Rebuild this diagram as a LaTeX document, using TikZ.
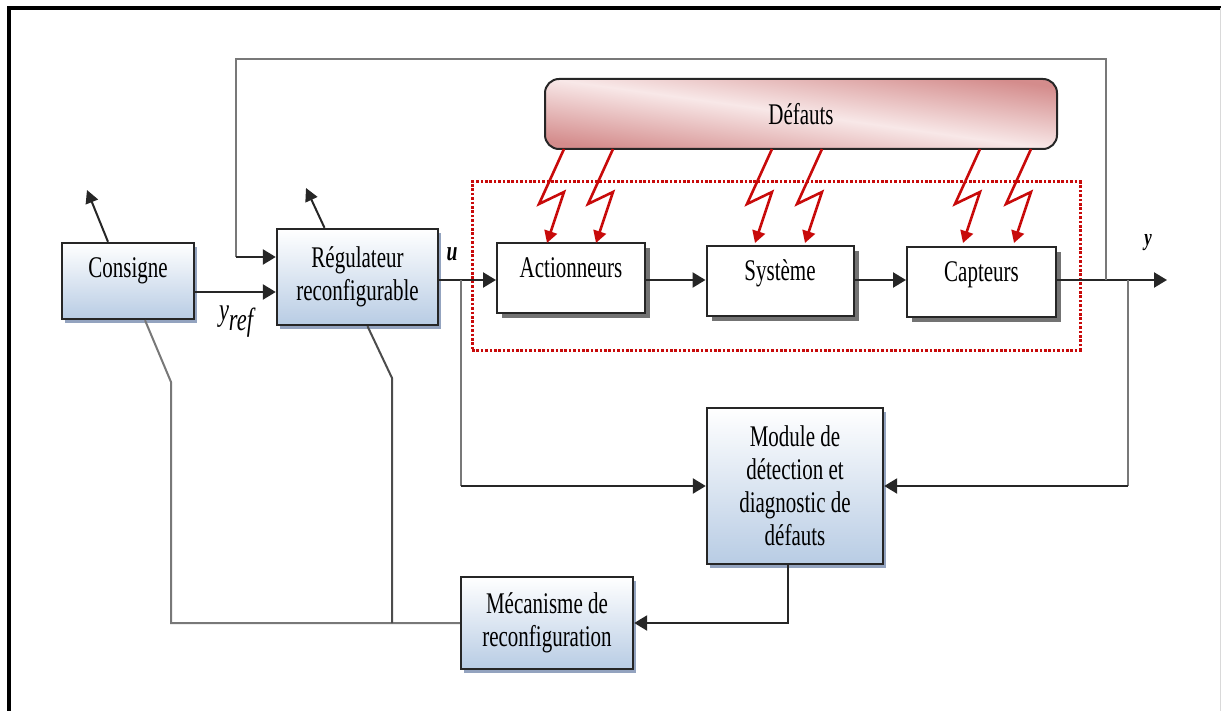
\documentclass[tikz,border=0pt]{standalone}
\usepackage{fontspec}
\setmainfont{Liberation Serif}[FakeStretch=0.7]
\usetikzlibrary{arrows.meta,shadows,calc}
\definecolor{boxblue}{RGB}{184,204,228}
\definecolor{shblue}{RGB}{120,140,175}
\definecolor{pinkdark}{RGB}{212,140,140}
\definecolor{pinklight}{RGB}{248,232,232}
\definecolor{boltred}{RGB}{200,10,10}
\definecolor{gline}{RGB}{120,120,120}
\tikzset{
  every node/.style={font=\fontsize{30}{33}\selectfont},
  bluebox/.style={draw=black!85, line width=2.4pt, top color=white, bottom color=boxblue,
    align=center, inner sep=0pt,
    drop shadow={shadow xshift=3pt, shadow yshift=-4pt, fill=shblue, opacity=0.8}},
  whitebox/.style={draw=black!85, line width=2pt, fill=white, align=center, inner sep=0pt,
    text height=20pt, text depth=20pt,
    drop shadow={shadow xshift=5pt, shadow yshift=-5pt, fill=black!55, opacity=1}},
  arr/.style={draw=black!85, line width=2.4pt, -{Triangle[length=13pt,width=15pt]}},
  garr/.style={draw=gline, line width=2pt},
  smallarr/.style={draw=black!85, line width=2pt, -{Triangle[length=13pt,width=13pt]}},
  bolt/.style={draw=boltred, line width=2.6pt, line join=miter, -{Triangle[length=12pt,width=13pt]}},
  lbl/.style={font=\fontsize{28}{31}\selectfont\itshape\bfseries, inner sep=0pt}
}
\begin{document}
\begin{tikzpicture}[x=1pt,y=-1pt]
\useasboundingbox (0,0) rectangle (1221,711);
% frame
\draw[line width=3.5pt, black] (9,711) -- (9,8) -- (1221,8);
\draw[line width=0.8pt, black!15] (1220,8) -- (1220,711);

% Defauts
\node[draw=black!85, line width=2pt, rounded corners=14pt, minimum width=512pt, minimum height=70pt,
  top color=pinkdark, bottom color=pinkdark, middle color=pinklight, shading angle=-8, inner sep=0pt]
  (def) at (801,114) {Défauts};

% fault zone
\node[draw=boltred, line width=3pt, dash pattern=on 2.6pt off 1.8pt, minimum width=608pt,
  minimum height=168pt, inner sep=0pt] (zone) at (776,266) {};

% boxes
\node[bluebox, minimum width=132pt, minimum height=76pt, text height=20pt, text depth=26pt]
  (cons) at (128,281) {Consigne};
\node[bluebox, minimum width=161pt, minimum height=96pt] (reg) at (357.5,277) {Régulateur\\reconfigurable};
\node[whitebox, minimum width=148pt, minimum height=70pt] (act) at (571,278) {Actionneurs};
\node[whitebox, minimum width=147pt, minimum height=70pt] (sys) at (780,281) {Système};
\node[whitebox, minimum width=149pt, minimum height=70pt] (cap) at (981.5,282) {Capteurs};
\node[bluebox, minimum width=176pt, minimum height=156pt] (mod) at (795,486)
  {Module de\\détection et\\diagnostic de\\défauts};
\node[bluebox, minimum width=172pt, minimum height=92pt] (mec) at (547,623) {Mécanisme de\\reconfiguration};

% helper coordinates
\coordinate (ubr) at (461,280);
\coordinate (ybr) at (1128,280);
\coordinate (fbr) at (1106,280);
\coordinate (out) at (1167,280);
\coordinate (tl) at (236,59);
\coordinate (tlb) at (236,257);
\coordinate (k1) at (171,382);
\coordinate (k2) at (392,378);

% labels
\node[lbl] (ulbl) at (452,254) {u};
\node[lbl, font=\fontsize{24}{26}\selectfont\itshape\bfseries] (ylbl) at (1148,243) {y};
\node[inner sep=0pt, font=\fontsize{32}{34}\selectfont\itshape] (yref) at (236,322) {y\raisebox{-10pt}{ref}};

% main chain
\draw[arr] ([yshift=-11pt]cons.east) -- ([yshift=-11pt]cons.east -| reg.west);
\draw[arr] (reg.east |- ubr) -- (ubr -| act.west);
\draw[arr] (act.east |- ubr) -- (ubr -| sys.west);
\draw[arr] (sys.east |- ubr) -- (ubr -| cap.west);
\draw[arr] (cap.east |- ubr) -- (out);

% top feedback
\draw[garr] (fbr) |- (tl) -- (tlb);
\draw[arr] (tlb) -- (tlb -| reg.west);

% branches to module
\draw[garr] (ubr) -- (ubr |- mod.west);
\draw[arr] (ubr |- mod.west) -- (mod.west);
\draw[garr] (ybr) -- (ybr |- mod.east);
\draw[arr] (ybr |- mod.east) -- (mod.east);

% module -> mecanisme
\draw[arr] ([xshift=-7pt]mod.south) |- (mec.east);

% reconfiguration lines
\draw[garr] ([xshift=17pt]cons.south) -- (k1) |- (mec.west);
\draw[draw=black!70, line width=2pt] ([xshift=10pt]reg.south) -- (k2) -- (k2 |- mec.west);

% tuning arrows
\draw[smallarr] ([xshift=-20pt]cons.north) -- (87,190);
\draw[smallarr] ([xshift=-33pt]reg.north) -- (306,188);

% bolts
\foreach \x in {564,613,772,822,980,1031}{
  \draw[bolt] (\x,149) -- ++(-25,55) -- ++(25,-12) -- ++(-17,51);
}
\end{tikzpicture}
\end{document}
